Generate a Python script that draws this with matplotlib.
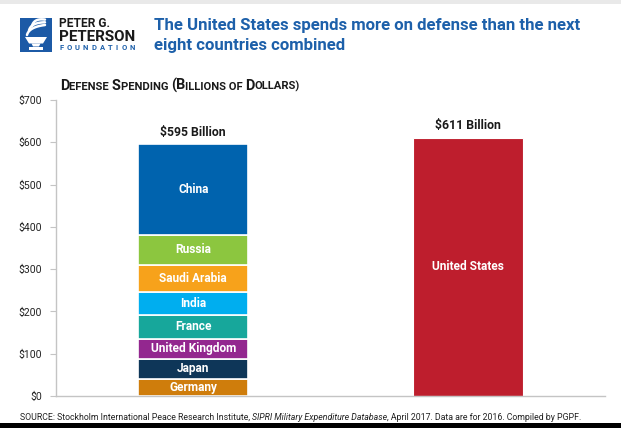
import numpy as np
import matplotlib
matplotlib.use("Agg")
import matplotlib.pyplot as plt
from matplotlib import font_manager
from matplotlib.patches import Rectangle, Polygon

#----------------------------------------------------------------------
# data (SIPRI 2016, billions of dollars)
#----------------------------------------------------------------------
countries = ["Germany", "Japan", "United Kingdom", "France", "India",
             "Saudi Arabia", "Russia", "China"]
spending = [41.1, 46.1, 48.3, 55.7, 55.9, 63.7, 69.2, 215.2]
seg_colors = ["#cf7d0c", "#0e3658", "#93278f", "#17a79b", "#00aeef",
              "#f7a21b", "#8cc63f", "#0063ae"]
us_label = "United States"
us_spending = 611
us_color = "#be1e2d"
yticks = [0, 100, 200, 300, 400, 500, 600, 700]
ytick_labels = ["$" + str(v) for v in yticks]

title_lines = ["The United States spends more on defense than the next",
               "eight countries combined"]
subtitle = [("D", 1), ("EFENSE ", 0), ("S", 1), ("PENDING ", 0), ("(B", 1),
            ("ILLIONS OF ", 0), ("D", 1), ("OLLARS)", 0)]
source = [("SOURCE: Stockholm International Peace Research Institute, ", "normal"),
          ("SIPRI Military Expenditure Database", "italic"),
          (", April 2017. Data are for 2016. Compiled by PGPF.", "normal")]

W, H = 621, 428
BLUE = "#1d60aa"

names = {f.name for f in font_manager.fontManager.ttflist}
FONT = "Roboto" if "Roboto" in names else "DejaVu Sans"
NARROW = "Liberation Sans Narrow" if "Liberation Sans Narrow" in names else FONT
plt.rcParams["font.family"] = [FONT, "DejaVu Sans"]

fig = plt.figure(figsize=(W / 100, H / 100), dpi=100)
fig.patch.set_facecolor("white")
renderer = fig.canvas.get_renderer()

# overlay in pixel coordinates (y down) for header/footer/logo
deco = fig.add_axes([0, 0, 1, 1])
deco.set_xlim(0, W)
deco.set_ylim(H, 0)
deco.axis("off")

deco.add_patch(Rectangle((0, 0), W, 4, color="#e9e9e9", lw=0))
deco.add_patch(Rectangle((0, 423), W, 5, color="black", lw=0))


def adv(s, size, **kw):
    # advance width incl. spaces, measured with a sentinel
    t1 = deco.text(0, 0, s + "|", fontsize=size, **kw)
    t2 = deco.text(0, 0, "|", fontsize=size, **kw)
    w = t1.get_window_extent(renderer).width - t2.get_window_extent(renderer).width
    t1.remove()
    t2.remove()
    return w


def fitted(s, width, **kw):
    return 10 * width / adv(s, 10, **kw)


#------------------------------------------------------------------------
# logo
#------------------------------------------------------------------------
deco.add_patch(Rectangle((20, 18), 32, 34, color="#1c5aa6", lw=0))
deco.add_patch(Polygon([(25, 37), (47, 37), (43, 43.5), (29, 43.5)], color="white", lw=0))
deco.add_patch(Polygon([(31.5, 43.5), (40.5, 43.5), (39, 46.5), (33, 46.5)], color="white", lw=0))
deco.add_patch(Rectangle((29, 47.3), 14, 2.4, color="white", lw=0))
tt = np.linspace(0, 1, 30)
for dy, sx in [(0, 0), (-4.5, 2), (-9, 5)]:
    p0, p1, p2 = np.array([27 + sx, 35 + dy]), np.array([29 + sx, 27 + dy]), np.array([45, 25 + dy * 0.6])
    pts = ((1 - tt)[:, None] ** 2) * p0 + (2 * (1 - tt) * tt)[:, None] * p1 + (tt ** 2)[:, None] * p2
    deco.plot(pts[:, 0], pts[:, 1], color="white", lw=1.8, solid_capstyle="round")

fs = fitted("PETER G.", 51, fontweight="bold")
deco.text(59, 26.7, "PETER G.", fontsize=fs, fontweight="bold", color="#1a1a1a", va="baseline")
fs = fitted("PETERSON", 76, fontweight="bold")
deco.text(59, 40.7, "PETERSON", fontsize=fs, fontweight="bold", color="#1a1a1a", va="baseline")
letters = "FOUNDATION"
lw_sum = sum(adv(c, 5.5, fontweight="bold") for c in letters)
gap = (76 - lw_sum) / (len(letters) - 1)
x = 59
for c in letters:
    deco.text(x, 49.5, c, fontsize=5.5, fontweight="bold", color=BLUE, va="baseline")
    x += adv(c, 5.5, fontweight="bold") + gap

#------------------------------------------------------------------------
# title / subtitle / source
#------------------------------------------------------------------------
fs = fitted(title_lines[0], 427, family=NARROW, fontweight="bold")
for line, base in zip(title_lines, [30, 50]):
    deco.text(154, base, line, fontsize=fs, family=NARROW, fontweight="bold",
              color=BLUE, va="baseline")

nat = sum(adv(s, 10 if big else 7.8, fontweight="bold") for s, big in subtitle)
k = 244 / nat
x = 60
for s, big in subtitle:
    size = (10 if big else 7.8) * k
    deco.text(x, 90, s, fontsize=size, fontweight="bold", color="#1a1a1a", va="baseline")
    x += adv(s, size, fontweight="bold")

nat = sum(adv(s, 6, fontstyle=st) for s, st in source)
size = 6 * 567 / nat
x = 20
for s, st in source:
    deco.text(x, 420, s, fontsize=size, fontstyle=st, color="#222222", va="baseline")
    x += adv(s, size, fontstyle=st)

#------------------------------------------------------------------------
# chart
#------------------------------------------------------------------------
ax = fig.add_axes([56 / W, (H - 396) / H, 549 / W, 296 / H])
ax.set_facecolor("none")

bottom = 0
for name, val, col in zip(countries, spending, seg_colors):
    ax.bar(0, val, bottom=bottom, width=0.4, color=col, edgecolor="white", linewidth=1.2)
    ax.text(0, bottom + val / 2, name, ha="center", va="center", color="white",
            fontsize=8.6, fontweight="bold")
    bottom += val
ax.annotate("${:.0f} Billion".format(bottom), (0, bottom), xytext=(0, 4),
            textcoords="offset points", ha="center", va="bottom",
            fontsize=8.8, fontweight="bold", color="#1a1a1a")

ax.bar(1, us_spending, width=0.4, color=us_color, edgecolor="white", linewidth=0.8)
ax.text(1, us_spending / 2, us_label, ha="center", va="center", color="white",
        fontsize=8.6, fontweight="bold")
ax.annotate("${:.0f} Billion".format(us_spending), (1, us_spending), xytext=(0, 4),
            textcoords="offset points", ha="center", va="bottom",
            fontsize=8.8, fontweight="bold", color="#1a1a1a")

ax.set_xlim(-0.5, 1.5)
ax.set_ylim(0, 700)
ax.set_yticks(yticks)
ax.set_yticklabels(ytick_labels)
ax.set_xticks([])
for side in ["top", "right"]:
    ax.spines[side].set_visible(False)
for side in ["left", "bottom"]:
    ax.spines[side].set_color("#c4c4c4")
    ax.spines[side].set_linewidth(1.0)
ax.tick_params(axis="y", direction="out", length=4, width=0.8, color="#c4c4c4",
               labelsize=7.5, labelcolor="#222222", pad=6)

fig.savefig("out.png", dpi=100, facecolor="white")
